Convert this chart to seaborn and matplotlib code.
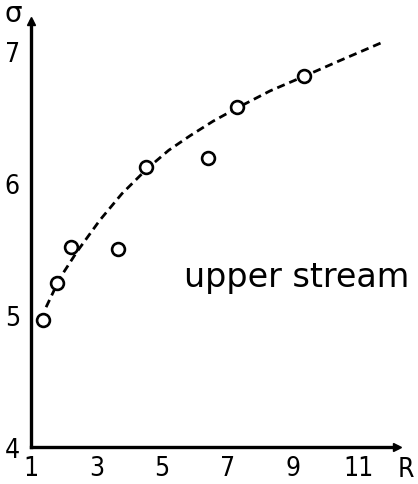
import matplotlib
matplotlib.use("Agg")
import matplotlib.pyplot as plt
import seaborn as sns
import pandas as pd

# measured points
r_obs = [1.37, 1.79, 2.22, 3.65, 4.50, 6.40, 7.28, 9.32]
sigma_obs = [4.96, 5.24, 5.52, 5.50, 6.12, 6.19, 6.58, 6.81]

# hand-drawn trend curve
r_curve = [1.46, 1.88, 2.40, 3.10, 3.77, 4.54, 5.20, 5.85, 6.55, 7.28, 8.29, 9.32, 10.42, 11.73]
sigma_curve = [5.06, 5.28, 5.48, 5.72, 5.92, 6.11, 6.25, 6.36, 6.47, 6.57, 6.70, 6.81, 6.93, 7.07]

x_ticks = [1, 3, 5, 7, 9, 11]
y_ticks = [4, 5, 6, 7]

obs = pd.DataFrame({"R": r_obs, "sigma": sigma_obs})
curve = pd.DataFrame({"R": r_curve, "sigma": sigma_curve})

sns.set_style("white")
plt.rcParams["font.family"] = ["DejaVu Sans"]
plt.rcParams["text.color"] = "black"
narrow = ["DejaVu Sans Condensed", "Liberation Sans Narrow", "DejaVu Sans"]

fig = plt.figure(figsize=(4.18, 4.85), dpi=100)
ax = fig.add_axes([31 / 418, 37 / 485, 366 / 418, 426 / 485])

sns.lineplot(data=curve, x="R", y="sigma", ax=ax, color="black",
             linewidth=2.0, linestyle=(0, (2.9, 1.8)), sort=False)
sns.scatterplot(data=obs, x="R", y="sigma", ax=ax, marker="o", s=85,
                facecolor="white", edgecolor="black", linewidth=1.9, zorder=5)

ax.set_xlim(1, 12.16)
ax.set_ylim(4, 7.23)
ax.set_xticks(x_ticks)
ax.set_yticks(y_ticks)
ax.set_xticklabels([str(t) for t in x_ticks], fontsize=19, family=narrow,
                   stretch="condensed")
ax.set_yticklabels([str(t) for t in y_ticks], fontsize=19, family=narrow,
                   stretch="condensed")
ax.tick_params(axis="both", direction="in", length=5, width=2.0,
               colors="black", labelcolor="black")
ax.tick_params(axis="y", pad=8)
ax.tick_params(axis="x", pad=6)
ax.set_xlabel("")
ax.set_ylabel("")

for side in ("top", "right"):
    ax.spines[side].set_visible(False)
for side in ("left", "bottom"):
    ax.spines[side].set_linewidth(2.4)
    ax.spines[side].set_color("black")

# arrowheads on the axes
ax.plot([1], [7.23], marker="^", color="black", markersize=6, clip_on=False)
ax.plot([12.16], [4], marker=">", color="black", markersize=6, clip_on=False)

ax.text(0.45, 7.29, "σ", fontsize=20, ha="center", va="center", clip_on=False)
ax.text(12.42, 3.83, "R", fontsize=19, family=narrow, stretch="condensed",
        ha="center", va="center", clip_on=False)
ax.text(9.09, 5.22, "upper stream", fontsize=24, ha="center", va="baseline")

fig.savefig("out.png", dpi=100, facecolor="white")
